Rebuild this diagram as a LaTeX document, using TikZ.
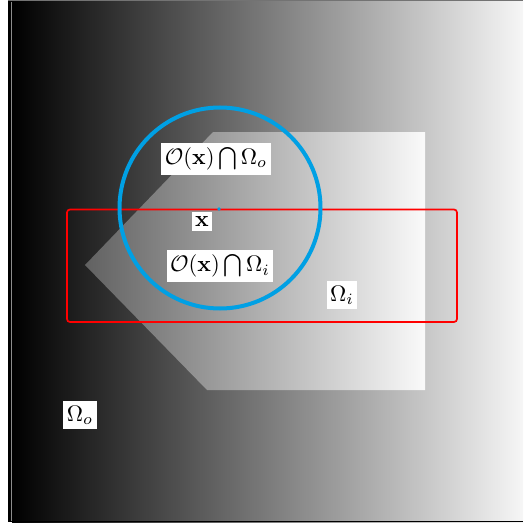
\documentclass[tikz,border=0pt]{standalone}
\usepackage{amsmath}
\definecolor{circblue}{RGB}{0,160,228}
\definecolor{endgray}{RGB}{246,246,246}
\newcommand{\bigtxt}[1]{\scalebox{2.25}{#1}}
\begin{document}
\begin{tikzpicture}[x=1pt,y=-1pt,
  lbl/.style={fill=white, inner xsep=3.5pt, inner ysep=4.5pt},
  region/.style={draw=red, line width=1.7pt, rounded corners=3pt, inner sep=0pt},
  nbhd/.style={circle, draw=circblue, line width=4pt, inner sep=0pt}]
\useasboundingbox (0,0) rectangle (523,524);
\fill[white] (0,0) rectangle (523,524);
% background gradient
\fill[black] (8,1) rectangle (12,522);
\shade[left color=black, right color=endgray] (12,1) rectangle (523,522);
\draw[black, line width=1.3pt] (8.6,1) -- (8.6,521.8) -- (523,521.8);
\draw[black!55, line width=0.9pt] (8,0.9) -- (523,0.9);
\draw[black!45, line width=0.7pt] (11.6,2) -- (11.6,521);
% inner region shape
\shade[left color=black!62, right color=black!2]
  (85,265) -- (213,132) -- (425,132) -- (425,390) -- (207,390) -- cycle;
% Omega_i rectangle
\node[region, minimum width=390pt, minimum height=112.5pt] (rect) at (262,265.75) {};
% neighbourhood circle
\node[nbhd, minimum size=201pt] (circ) at (220,208) {};
\coordinate (xc) at (219,209);
\fill[circblue] (xc) circle[radius=1.8];
% labels
\node[lbl] (oo) at (216,159) {\bigtxt{$\mathcal{O}(\mathbf{x})\bigcap\Omega_o$}};
\node[lbl] (xx) at (202,221) {\bigtxt{$\mathbf{x}$}};
\node[lbl] (oi) at (220,266) {\bigtxt{$\mathcal{O}(\mathbf{x})\bigcap\Omega_i$}};
\node[lbl] (wi) at (342,295) {\bigtxt{$\Omega_i$}};
\node[lbl] (wo) at (80,415) {\bigtxt{$\Omega_o$}};
\end{tikzpicture}
\end{document}
